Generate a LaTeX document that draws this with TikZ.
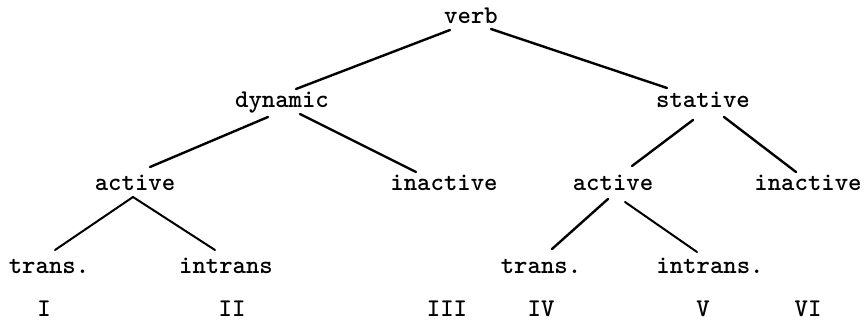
\documentclass[tikz,border=0pt]{standalone}
\usetikzlibrary{calc}
\begin{document}
\begin{tikzpicture}[x=1pt,y=-1pt,
  lbl/.style={anchor=base,inner sep=0pt,text depth=0pt,font=\ttfamily\bfseries\fontsize{25.5}{30}\selectfont},
  edge/.style={line width=2.4pt,line cap=round},
  thin edge/.style={line width=2pt,line cap=round}]
\useasboundingbox (0,0) rectangle (866,320);
\node[lbl] (verb) at (471,24) {verb};
\node[lbl] (dyn) at (282,108) {dynamic};
\node[lbl] (stat) at (703,108) {stative};
\node[lbl] (actL) at (135,191) {active};
\node[lbl] (inM) at (444,191) {inactive};
\node[lbl] (actR) at (613,191) {active};
\node[lbl] (inR) at (808,191) {inactive};
\node[lbl] (trL) at (49,273) {trans.};
\node[lbl] (intrL) at (226,273) {intrans};
\node[lbl] (trR) at (541,273) {trans.};
\node[lbl] (intrR) at (710,273) {intrans.};
\node[lbl] (n1) at (44,316) {I};
\node[lbl] (n2) at (232,316) {II};
\node[lbl] (n3) at (447,316) {III};
\node[lbl] (n4) at (541,316) {IV};
\node[lbl] (n5) at (703,316) {V};
\node[lbl] (n6) at (808,316) {VI};
\draw[edge] ($(verb.base)+(-21,6)$) -- ($(dyn.base)+(14,-19)$);
\draw[edge] ($(verb.base)+(20,5)$) -- ($(stat.base)+(-36,-20)$);
\draw[edge] ($(dyn.base)+(-14,9)$) -- ($(actL.base)+(15,-24)$);
\draw[edge] ($(dyn.base)+(18,6)$) -- ($(inM.base)+(-28,-19)$);
\draw[edge] ($(stat.base)+(-10,12)$) -- ($(actR.base)+(19,-25)$);
\draw[edge] ($(stat.base)+(21,9)$) -- ($(inR.base)+(-12,-19)$);
\draw[thin edge] ($(actL.base)+(-2,6)$) -- ($(trL.base)+(6,-23)$);
\draw[thin edge] ($(actL.base)+(-2,6)$) -- ($(intrL.base)+(-11,-23)$);
\draw[edge] ($(actR.base)+(-5,8)$) -- ($(trR.base)+(11,-24)$);
\draw[thin edge] ($(actR.base)+(12,11)$) -- ($(intrR.base)+(-13,-21)$);
\end{tikzpicture}
\end{document}
